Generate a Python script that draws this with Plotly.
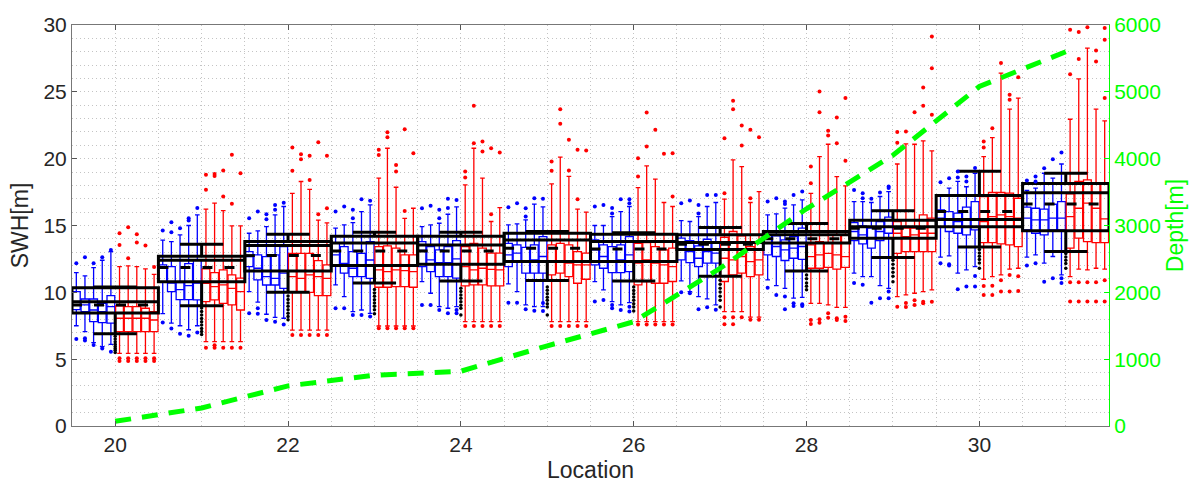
import plotly.graph_objects as go

LOCATIONS = list(range(20, 32))
BLUE_OFFSETS = [-0.45, -0.35, -0.25, -0.15, -0.05]
RED_OFFSETS = [0.05, 0.15, 0.25, 0.35, 0.45]

# ---------------- blue boxes (5 per location) ----------------
BLUE_LW = [
    [7.5, 7.06, 6.24, 5.94, 6.1],
    [8.4, 7.7, 7.5, 7.2, 7.5],
    [10.05, 9.26, 8.36, 8.13, 8.06],
    [10.56, 9.68, 8.56, 8.68, 8.43],
    [10.8, 9.93, 8.93, 8.81, 8.93],
    [10.63, 10.06, 9.06, 8.93, 8.93],
    [10.8, 10.18, 9.31, 9.06, 9.23],
    [10.86, 10.06, 9.68, 9.51, 9.06],
    [10.93, 10.5, 10.3, 9.56, 9.63],
    [11.43, 11.18, 11.18, 10.5, 10.3],
    [12.63, 12.73, 11.43, 11.68, 11.93],
    [12.63, 12.8, 12.18, 12.68, 11.3],
]
BLUE_Q1 = [
    [8.7, 8.56, 7.81, 7.74, 7.69],
    [10.8, 10.06, 9.45, 9.45, 9.43],
    [11.93, 10.93, 10.55, 10.55, 10.3],
    [12.0, 11.43, 11.18, 11.18, 11.05],
    [11.93, 11.55, 11.18, 11.18, 11.06],
    [11.93, 12.3, 11.43, 11.43, 11.43],
    [12.05, 11.8, 11.48, 11.48, 11.55],
    [12.43, 12.23, 11.93, 12.18, 12.18],
    [12.8, 12.68, 12.38, 12.55, 12.47],
    [13.87, 13.62, 13.3, 13.87, 14.42],
    [14.92, 14.55, 14.42, 14.3, 14.67],
    [14.67, 14.42, 14.3, 14.67, 14.67],
]
BLUE_MED = [
    [9.31, 9.06, 8.68, 8.56, 8.93],
    [11.8, 10.7, 10.2, 10.5, 10.7],
    [12.67, 11.8, 11.18, 11.05, 11.43],
    [12.8, 12.17, 11.8, 12.0, 12.42],
    [13.13, 12.43, 12.23, 12.23, 12.5],
    [12.8, 12.93, 12.3, 12.43, 12.68],
    [13.18, 12.68, 12.3, 12.43, 12.8],
    [13.18, 13.05, 12.55, 13.05, 12.93],
    [13.67, 13.43, 13.17, 13.3, 13.43],
    [14.55, 14.3, 14.05, 14.55, 14.92],
    [15.55, 15.42, 15.3, 15.42, 15.47],
    [15.55, 15.42, 15.42, 15.55, 15.55],
]
BLUE_Q3 = [
    [10.06, 9.5, 9.5, 9.18, 9.76],
    [12.05, 11.93, 10.73, 12.15, 12.43],
    [13.05, 12.8, 12.67, 12.8, 13.42],
    [13.67, 13.42, 13.05, 12.92, 13.8],
    [13.8, 13.42, 13.18, 13.42, 13.87],
    [13.67, 13.55, 13.37, 13.55, 14.17],
    [13.92, 13.55, 13.42, 13.55, 14.17],
    [14.05, 13.87, 13.47, 13.97, 13.67],
    [14.3, 14.22, 13.92, 14.17, 14.8],
    [15.22, 14.97, 14.8, 15.29, 15.62],
    [16.17, 16.04, 15.92, 16.37, 16.79],
    [16.37, 16.29, 16.22, 16.59, 16.79],
]
BLUE_UW = [
    [11.48, 11.23, 11.85, 12.4, 13.05],
    [13.9, 13.8, 14.3, 15.0, 15.8],
    [14.42, 14.6, 14.92, 15.79, 16.42],
    [14.8, 15.04, 15.22, 16.04, 16.54],
    [14.92, 15.05, 15.17, 15.84, 16.4],
    [15.05, 15.12, 15.42, 16.6, 16.4],
    [15.0, 15.0, 15.67, 16.04, 16.42],
    [15.37, 15.3, 15.67, 16.42, 16.72],
    [15.79, 15.87, 16.3, 16.54, 16.92],
    [16.79, 16.79, 16.72, 17.17, 17.54],
    [17.29, 17.79, 18.3, 17.9, 18.9],
    [17.62, 17.79, 18.91, 18.54, 19.6],
]
BLUE_HI = [
    [[12.18], [12.63], [12.18], [12.63], [13.17]],
    [[14.62], [15.25, 14.5], [14.8], [15.55, 15.37], [16.3]],
    [[15.54], [16.04], [15.84, 15.47], [16.54, 16.17], [16.7]],
    [[16.04], [16.42], [16.17, 15.54], [16.97], [16.85]],
    [[16.29], [16.47], [16.17, 15.55], [17.0, 16.3], [16.9]],
    [[16.37], [16.67], [16.29, 15.67], [17.04], [17.0]],
    [[16.42], [16.54], [16.3, 15.9], [16.97], [16.97, 16.67]],
    [[16.67], [16.87], [16.54, 15.9], [17.29], [17.29]],
    [[16.79], [17.04], [16.8, 16.6], [17.29], [17.54]],
    [[17.66], [17.42, 17.04], [17.0], [17.47], [17.91, 17.8]],
    [[18.24], [18.54], [19.04, 18.6], [18.66, 18.3], [19.3]],
    [[18.36], [18.66, 18.3], [19.29], [19.96], [20.46]],
]
BLUE_LO = [
    [[6.51], [6.56, 6.39], [6.06], [5.8], [5.56]],
    [[7.74], [7.3], [6.9], [6.75], [7.0]],
    [[8.43], [8.8, 8.4], [7.93], [7.8], [7.6]],
    [[8.8], [8.8], [8.3], [8.3], [8.2]],
    [[9.06], [9.06], [8.68], [8.43], [8.68, 8.43]],
    [[9.23], [9.23], [8.73], [8.63], [9.2, 8.6]],
    [[9.31], [9.43], [9.06, 8.81], [8.68], [8.93, 8.56]],
    [[10.0], [9.93], [8.73], [8.88], [8.7]],
    [[10.35], [9.8], [9.68, 8.73], [9.18, 8.98], [9.1, 8.98]],
    [[10.7], [10.56], [9.23], [9.56], [10.06, 9.56]],
    [[12.18], [12.1, 12.0], [10.23], [10.43], [11.23, 10.43]],
    [[12.0], [12.18], [10.8], [11.05], [11.05, 10.7]],
]

# ---------------- red boxes (5 per location) ----------------
RED_LW = [
    [5.44, 5.44, 5.44, 5.44, 5.44],
    [6.31, 6.31, 6.31, 6.31, 6.31],
    [7.18, 7.18, 7.18, 7.18, 7.18],
    [7.48, 7.48, 7.48, 7.48, 7.48],
    [7.81, 7.81, 7.81, 7.81, 7.81],
    [7.81, 7.81, 7.81, 7.81, 7.81],
    [7.81, 7.81, 7.81, 7.81, 7.81],
    [8.56, 8.56, 8.56, 8.14, 8.14],
    [9.18, 9.18, 9.06, 8.88, 8.88],
    [9.68, 9.81, 9.93, 10.06, 10.18],
    [10.98, 11.18, 11.3, 11.73, 11.8],
    [11.18, 11.73, 11.68, 11.8, 11.73],
]
RED_Q1 = [
    [7.06, 7.06, 7.06, 7.06, 7.06],
    [9.31, 9.43, 9.18, 9.06, 8.68],
    [10.05, 10.05, 10.0, 9.75, 9.75],
    [10.38, 10.38, 10.43, 10.43, 10.38],
    [10.48, 10.56, 10.56, 10.48, 10.48],
    [11.3, 11.43, 11.18, 10.68, 10.98],
    [10.56, 10.81, 10.68, 10.68, 10.81],
    [10.81, 11.3, 11.43, 11.18, 11.3],
    [11.8, 11.8, 11.86, 11.73, 11.86],
    [12.92, 13.05, 13.05, 13.05, 13.05],
    [13.72, 13.72, 13.62, 13.55, 13.42],
    [13.3, 14.05, 13.8, 13.72, 13.72],
]
RED_MED = [
    [8.06, 8.06, 8.06, 8.06, 7.93],
    [10.68, 10.43, 10.56, 10.3, 10.06],
    [11.18, 11.05, 11.3, 11.18, 11.05],
    [11.68, 11.55, 11.68, 11.62, 11.55],
    [11.93, 11.68, 11.8, 11.72, 11.68],
    [12.3, 12.3, 12.18, 12.05, 12.05],
    [12.18, 12.43, 12.18, 12.05, 11.93],
    [12.55, 12.43, 12.68, 12.3, 12.43],
    [12.67, 12.8, 12.92, 12.8, 12.67],
    [14.42, 14.17, 14.3, 14.42, 14.42],
    [15.3, 15.67, 15.8, 15.67, 15.55],
    [15.67, 16.29, 16.67, 16.29, 15.5],
]
RED_Q3 = [
    [8.98, 8.93, 8.93, 8.81, 8.56],
    [11.75, 11.48, 11.68, 11.3, 11.06],
    [12.92, 12.92, 12.92, 12.37, 12.05],
    [13.42, 13.47, 13.3, 12.8, 12.8],
    [13.42, 13.67, 13.3, 12.93, 12.93],
    [13.55, 13.67, 13.55, 13.05, 12.93],
    [13.67, 13.72, 13.42, 13.17, 13.3],
    [14.12, 14.55, 14.22, 13.42, 13.67],
    [13.55, 13.8, 13.67, 14.3, 14.3],
    [15.29, 14.8, 14.8, 15.8, 15.55],
    [17.17, 17.47, 17.47, 17.42, 17.04],
    [17.37, 18.29, 18.42, 18.16, 18.16],
]
RED_UW = [
    [11.93, 11.98, 11.93, 11.75, 11.35],
    [16.22, 16.67, 16.12, 14.97, 14.97],
    [17.41, 18.29, 17.71, 15.4, 15.2],
    [18.54, 20.78, 17.86, 15.54, 16.29],
    [18.04, 20.78, 18.54, 15.3, 16.34],
    [18.12, 20.11, 18.67, 16.22, 16.0],
    [17.84, 19.46, 18.47, 16.72, 16.42],
    [16.97, 19.91, 19.41, 16.72, 17.54],
    [17.4, 20.16, 21.08, 18.66, 17.96],
    [19.6, 21.11, 21.08, 21.33, 20.58],
    [20.16, 21.58, 26.4, 23.7, 24.53],
    [22.95, 25.97, 28.27, 23.7, 22.83],
]
RED_HI = [
    [[14.42, 13.55], [14.87, 12.55], [14.35, 13.72], [13.5], [11.9]],
    [[18.79, 17.67], [18.86, 18.71], [19.11, 17.17], [20.29, 16.62], [18.91]],
    [[19.09, 20.83], [20.33, 19.96], [20.21, 18.41], [21.23, 15.84], [20.21, 16.29]],
    [[20.66, 20.28], [21.98, 21.6], [19.53, 19.04], [22.2, 16.09], [20.4]],
    [[19.04, 18.6], [21.16, 23.95], [21.28, 20.54], [20.78, 15.84], [20.46]],
    [[19.79, 19.09], [22.61, 23.7], [21.41, 19.11], [20.66, 16.97], [20.61]],
    [[18.67, 20.04], [23.45, 20.91], [22.16], [20.36], [20.41, 17.17]],
    [[17.42, 21.53], [24.33, 23.7], [22.48, 20.98], [22.16, 17.04], [21.61]],
    [[19.41, 18.16], [25.03, 23.48], [22.08, 21.73], [23.08, 21.16], [24.53, 19.84]],
    [[21.2, 22.0], [22.03], [23.48], [25.33, 23.95], [29.14, 26.77, 23.28]],
    [[21.28, 20.83], [22.28], [27.15], [24.78, 24.4], [26.1]],
    [[26.32, 29.64], [27.45, 29.47], [29.84], [28.1, 27.27], [29.77, 28.89, 24.53]],
]
RED_LO = [
    [[5.07, 4.87], [5.07, 4.87], [5.07, 4.87], [5.07, 4.87], [5.07, 4.87]],
    [[5.86], [5.86, 6.05], [5.86], [5.86], [5.86]],
    [[6.81], [6.81], [6.81], [6.81], [6.81]],
    [[7.31], [7.31], [7.31], [7.31], [7.31]],
    [[7.49], [7.49], [7.49], [7.49], [7.49]],
    [[7.49], [7.49], [7.49], [7.49], [7.49]],
    [[7.6], [7.6], [7.6], [7.6], [7.6]],
    [[8.14, 7.61], [8.14, 7.61], [8.14], [7.95], [7.95]],
    [[7.93, 7.64], [7.98, 7.73], [8.43, 8.1], [8.06, 7.93], [8.18, 7.86]],
    [[8.93], [9.2, 8.9], [9.4, 9.06], [9.3, 9.18], [9.3]],
    [[10.48, 9.8], [10.5, 9.8], [10.9, 10.06], [11.3, 10.06], [11.2, 10.1]],
    [[10.76, 9.31], [10.76, 9.31], [10.76, 9.31], [10.76, 9.31], [10.9, 9.31]],
]

# ---------------- black (pooled) boxes, one per location ----------------
BLACK_UPPER = [10.4, 13.6, 14.35, 14.5, 14.5, 14.55, 14.45, 14.85, 15.15, 16.1, 19.05, 18.9]
BLACK_Q3 = [10.35, 12.7, 13.8, 14.2, 14.2, 14.42, 14.34, 14.3, 14.55, 15.4, 17.25, 18.15]
BLACK_MED = [9.3, 12.4, 13.5, 13.7, 13.55, 13.92, 13.8, 13.72, 14.3, 14.9, 15.45, 17.45]
BLACK_MEAN = [9.05, 11.85, 12.75, 13.1, 13.1, 13.3, 13.25, 13.6, 14.0, 14.8, 16.05, 16.6]
BLACK_Q1 = [8.45, 10.8, 11.6, 12.0, 12.1, 12.3, 12.3, 13.2, 13.7, 14.05, 14.9, 14.6]
BLACK_LOWER = [6.9, 9.0, 10.0, 10.7, 10.85, 10.88, 10.85, 11.2, 11.6, 12.6, 13.4, 13.05]
BLACK_OUT = [
    [6.72, 6.5, 6.31, 6.12, 5.95, 5.8, 5.66, 5.5],
    [8.82, 8.56, 8.3, 8.04, 7.8, 7.55, 7.3, 7.07, 6.85],
    [9.72, 9.46, 9.2, 8.95, 8.7, 8.44, 8.2, 7.95],
    [10.22, 9.95, 9.7, 9.44, 9.2, 8.96, 8.7, 8.4],
    [10.3, 10.06, 9.8, 9.55, 9.3, 9.04, 8.8, 8.3],
    [10.4, 10.15, 9.9, 9.64, 9.4, 9.15, 8.9, 8.3],
    [10.4, 10.14, 9.9, 9.66, 9.4, 9.15, 8.9, 8.6],
    [10.9, 10.6, 10.3, 10.02, 9.7, 9.4, 8.9],
    [11.3, 11.02, 10.7, 10.45, 10.2],
    [12.4, 12.1, 11.8, 11.5, 11.2, 10.8],
    [13.2, 12.95, 12.7, 12.45, 12.2, 11.8],
    [12.9, 12.65, 12.4, 12.15, 11.8],
]

# ---------------- depth (right axis) ----------------
DEPTH = [70, 270, 600, 760, 820, 1200, 1560, 2360, 3250, 4050, 5080, 5600]

X_TICKS = [20, 22, 24, 26, 28, 30]
Y_TICKS = [0, 5, 10, 15, 20, 25, 30]
Y2_TICKS = [0, 1000, 2000, 3000, 4000, 5000, 6000]

FONT = "Liberation Sans, Arial, Helvetica, sans-serif"
BLUE = "#0000ff"
RED = "#ff0000"
GREEN = "#00ff00"


def flatten(stats):
    return [v for row in stats for v in row]


def positions(offsets):
    return [loc + off for loc in LOCATIONS for off in offsets]


def outlier_xy(groups, offsets):
    xs, ys = [], []
    for li, loc in enumerate(LOCATIONS):
        for bi, off in enumerate(offsets):
            for v in groups[li][bi]:
                xs.append(loc + off)
                ys.append(v)
    return xs, ys


fig = go.Figure()

for name, offs, col, lw, q1, med, q3, uw in [
    ("blue", BLUE_OFFSETS, BLUE, BLUE_LW, BLUE_Q1, BLUE_MED, BLUE_Q3, BLUE_UW),
    ("red", RED_OFFSETS, RED, RED_LW, RED_Q1, RED_MED, RED_Q3, RED_UW),
]:
    fig.add_trace(go.Box(
        x=positions(offs), q1=flatten(q1), median=flatten(med), q3=flatten(q3),
        lowerfence=flatten(lw), upperfence=flatten(uw),
        width=0.09, whiskerwidth=0.6, boxpoints=False,
        line=dict(color=col, width=1.3), fillcolor="rgba(0,0,0,0)",
        showlegend=False, hoverinfo="skip", name=name,
    ))

for groups, offs, col in [(BLUE_HI, BLUE_OFFSETS, BLUE), (BLUE_LO, BLUE_OFFSETS, BLUE),
                          (RED_HI, RED_OFFSETS, RED), (RED_LO, RED_OFFSETS, RED)]:
    xs, ys = outlier_xy(groups, offs)
    fig.add_trace(go.Scatter(x=xs, y=ys, mode="markers",
                             marker=dict(color=col, size=4),
                             showlegend=False, hoverinfo="skip"))

fig.add_trace(go.Box(
    x=LOCATIONS, q1=BLACK_Q1, median=BLACK_MED, q3=BLACK_Q3,
    lowerfence=BLACK_LOWER, upperfence=BLACK_UPPER,
    width=1.0, whiskerwidth=0.5, boxpoints=False,
    line=dict(color="black", width=3), fillcolor="rgba(0,0,0,0)",
    showlegend=False, hoverinfo="skip",
))

# dashed mean line across each black box
mx, my = [], []
for loc, m in zip(LOCATIONS, BLACK_MEAN):
    mx += [loc - 0.5, loc + 0.5, None]
    my += [m, m, None]
fig.add_trace(go.Scatter(x=mx, y=my, mode="lines",
                         line=dict(color="black", width=3, dash="10px,12px"),
                         showlegend=False, hoverinfo="skip"))

bx, by = [], []
for loc, vals in zip(LOCATIONS, BLACK_OUT):
    for v in vals:
        bx.append(loc)
        by.append(v)
fig.add_trace(go.Scatter(x=bx, y=by, mode="markers",
                         marker=dict(color="black", size=3.5),
                         showlegend=False, hoverinfo="skip"))

fig.add_trace(go.Scatter(x=LOCATIONS, y=DEPTH, yaxis="y2", mode="lines",
                         line=dict(color=GREEN, width=5, dash="16px,11px"),
                         showlegend=False, hoverinfo="skip"))

grid = dict(showgrid=True, gridcolor="#c4c4c4", gridwidth=1, griddash="1px,3px")

fig.update_layout(
    width=1195, height=486,
    margin=dict(l=72, r=86, t=25, b=60, autoexpand=False),
    paper_bgcolor="white", plot_bgcolor="white",
    font=dict(family=FONT, size=21, color="#262626"),
    boxmode="overlay",
    xaxis=dict(
        range=[19.5, 31.5], tickvals=X_TICKS, ticks="inside", ticklen=5,
        tickcolor="#555", showline=True, linecolor="#777", linewidth=1,
        mirror="ticks", zeroline=False,
        title=dict(text="Location", font=dict(size=23), standoff=6),
        minor=dict(dtick=0.5, tick0=19.5, **grid),
        **grid,
    ),
    yaxis=dict(
        range=[0, 30], tickvals=Y_TICKS, ticks="inside", ticklen=5,
        tickcolor="#555", showline=True, linecolor="#777", linewidth=1,
        zeroline=False,
        title=dict(text="SWH[m]", font=dict(size=23), standoff=8),
        minor=dict(dtick=1, tick0=0, **grid),
        **grid,
    ),
    yaxis2=dict(
        overlaying="y", side="right", range=[0, 6000], tickvals=Y2_TICKS,
        ticks="inside", ticklen=5, tickcolor=GREEN, showline=True,
        linecolor=GREEN, linewidth=1, showgrid=False, zeroline=False,
        tickfont=dict(color=GREEN, size=21),
        title=dict(text="Depth[m]", font=dict(color=GREEN, size=23), standoff=6),
    ),
)

fig.write_html("out.html")
